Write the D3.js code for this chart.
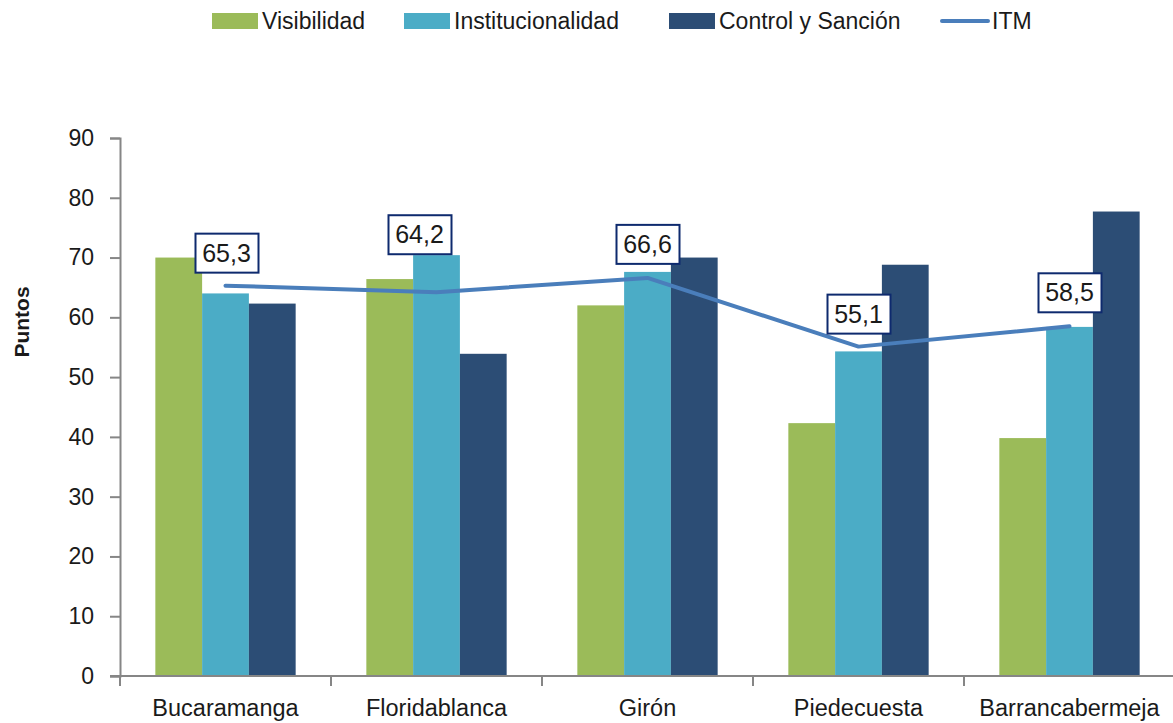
<!DOCTYPE html>
<html><head><meta charset="utf-8">
<script src="https://cdn.jsdelivr.net/npm/d3@7"></script>
<style>
body{margin:0;background:#fff;}
text{font-family:"Liberation Sans",Arial,sans-serif;fill:#1a1a1a;}
</style></head><body>
<svg id="c" width="1173" height="723"></svg>
<script>
const categories = ["Bucaramanga","Floridablanca","Girón","Piedecuesta","Barrancabermeja"];
const seriesNames = ["Visibilidad","Institucionalidad","Control y Sanción"];
const visibilidad = [70.0, 66.4, 62.0, 42.3, 39.8];
const institucionalidad = [64.0, 70.4, 67.6, 54.3, 58.4];
const controlSancion = [62.3, 53.9, 70.0, 68.8, 77.7];
const itm = [65.3, 64.2, 66.6, 55.1, 58.5];
const itmLabels = ["65,3","64,2","66,6","55,1","58,5"];
const yTicks = [0,10,20,30,40,50,60,70,80,90];
const colors = ["#9bbb59","#4bacc6","#2c4d75"];
const lineColor = "#4a7ebb";
// label box offsets (px) relative to point
const labelDx = [1, -17, 0, 0, 0];
const labelDy = [-33, -58, -34, -33, -34];

const svg = d3.select("#c");
const x0 = d3.scaleBand().domain(categories).range([120,1175]).paddingInner(0.335).paddingOuter(0.1675);
const x1 = d3.scaleBand().domain(seriesNames).range([0,x0.bandwidth()]);
const y = d3.scaleLinear().domain([0,90]).range([676,138]);
const seriesVals = [visibilidad, institucionalidad, controlSancion];

// bars
seriesNames.forEach((s,si)=>{
  svg.append("g").selectAll("rect").data(categories).join("rect")
    .attr("x", c=>x0(c)+x1(s))
    .attr("y", (c,i)=>y(seriesVals[si][i]))
    .attr("width", x1.bandwidth())
    .attr("height", (c,i)=>y(0)-y(seriesVals[si][i]))
    .attr("fill", colors[si]);
});

// y axis
const ya = svg.append("g").attr("transform","translate(120,0)")
  .call(d3.axisLeft(y).tickValues(yTicks).tickSize(10).tickPadding(16));
ya.select(".domain").attr("stroke","#868686").attr("stroke-width",2);
ya.selectAll(".tick line").attr("stroke","#868686").attr("stroke-width",2);
ya.selectAll(".tick text").attr("font-size",23).attr("font-family","Liberation Sans, Arial, sans-serif").attr("fill","#1a1a1a");

// x axis
svg.append("line").attr("x1",110).attr("x2",1175).attr("y1",y(0)).attr("y2",y(0))
  .attr("stroke","#868686").attr("stroke-width",2);
const bounds = categories.map(c=>x0(c)-x0.step()*x0.paddingOuter()).concat([1175]);
svg.append("g").selectAll("line").data(bounds).join("line")
  .attr("x1",d=>d).attr("x2",d=>d).attr("y1",y(0)).attr("y2",y(0)+10)
  .attr("stroke","#868686").attr("stroke-width",2);
svg.append("g").selectAll("text").data(categories).join("text")
  .attr("x",c=>x0(c)+x0.bandwidth()/2).attr("y",716)
  .attr("text-anchor","middle").attr("font-size",23.5)
  .text(d=>d);

// y title
svg.append("text").attr("transform","translate(29,322) rotate(-90)")
  .attr("text-anchor","middle").attr("font-size",21).attr("font-weight","bold")
  .text("Puntos");

// ITM line
const line = d3.line().x((d,i)=>x0(categories[i])+x0.bandwidth()/2).y(d=>y(d));
svg.append("path").datum(itm).attr("d",line).attr("fill","none")
  .attr("stroke",lineColor).attr("stroke-width",4).attr("stroke-linecap","round").attr("stroke-linejoin","round");

// labels
const lg = svg.append("g").selectAll("g").data(itm).join("g")
  .attr("transform",(d,i)=>`translate(${x0(categories[i])+x0.bandwidth()/2+labelDx[i]},${y(d)+labelDy[i]})`);
lg.append("rect").attr("x",-31).attr("y",-19).attr("width",63).attr("height",39)
  .attr("fill","#fff").attr("stroke","#0e2a6e").attr("stroke-width",2);
lg.append("text").attr("text-anchor","middle").attr("y",9).attr("font-size",25)
  .text((d,i)=>itmLabels[i]);

// legend
const legendItems = [
  {name:"Visibilidad", type:"rect", color:colors[0], x:212},
  {name:"Institucionalidad", type:"rect", color:colors[1], x:404},
  {name:"Control y Sanción", type:"rect", color:colors[2], x:669},
  {name:"ITM", type:"line", color:lineColor, x:942}
];
const leg = svg.append("g").selectAll("g").data(legendItems).join("g")
  .attr("transform",d=>`translate(${d.x},0)`);
leg.filter(d=>d.type==="rect").append("rect").attr("x",0).attr("y",13).attr("width",46).attr("height",16).attr("fill",d=>d.color);
leg.filter(d=>d.type==="line").append("line").attr("x1",0).attr("x2",46).attr("y1",21).attr("y2",21)
  .attr("stroke",d=>d.color).attr("stroke-width",4).attr("stroke-linecap","round");
leg.append("text").attr("x",50).attr("y",29).attr("font-size",23).text(d=>d.name);
</script>
</body></html>
